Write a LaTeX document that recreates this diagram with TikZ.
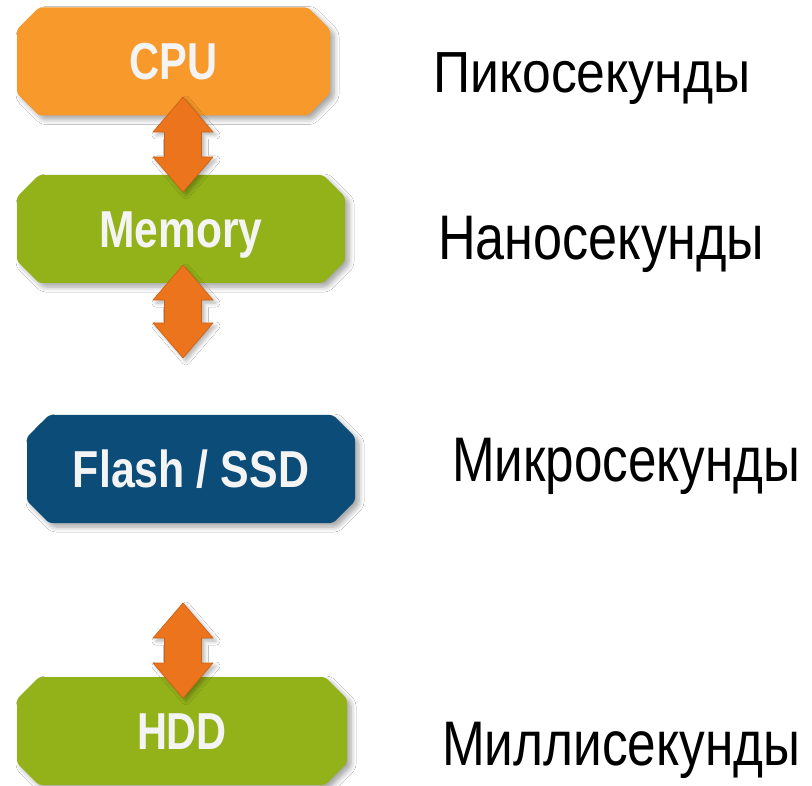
\documentclass[tikz,border=0pt]{standalone}
\usepackage{fontspec}
\setmainfont{Liberation Sans}
\usepackage{graphicx}
\usetikzlibrary{shapes.misc,shadows.blur,calc}
\definecolor{cpuorange}{HTML}{F7992B}
\definecolor{memgreen}{HTML}{93B21A}
\definecolor{flashblue}{HTML}{0B4C78}
\definecolor{arroworange}{HTML}{EB741C}
\definecolor{labelwhite}{HTML}{F4F4F4}
\newcommand\narrowtext[2]{\resizebox{#1}{\height}{#2}}
% block double arrow between two named coordinates (top tip, bottom tip)
\newcommand\blockarrow[2]{%
  \fill[arrowfill]
    (#1) -- ($(#1)+(30,35)$) -- ($(#1)+(18.5,35)$) -- ($(#2)+(18.5,-35)$) -- ($(#2)+(30,-35)$)
    -- (#2) -- ($(#2)+(-30,-35)$) -- ($(#2)+(-18.5,-35)$) -- ($(#1)+(-18.5,35)$) -- ($(#1)+(-30,35)$) -- cycle;}
\tikzset{
  membox/.style={chamfered rectangle, chamfered rectangle xsep=11pt, chamfered rectangle ysep=11pt,
    rounded corners=3pt, inner sep=0pt, minimum height=108pt, text=labelwhite,
    text height=37pt, text depth=0pt,
    font=\fontsize{52}{52}\selectfont\bfseries,
    blur shadow={shadow xshift=4pt, shadow yshift=-4pt, shadow blur steps=6, shadow opacity=35, shadow blur radius=5pt}},
  arrowfill/.style={fill=arroworange, draw=arroworange!85!black, line width=0.6pt, line join=round,
    blur shadow={shadow xshift=3pt, shadow yshift=-3pt, shadow blur steps=5, shadow opacity=30, shadow blur radius=4pt}},
  timelabel/.style={anchor=base west, inner sep=0pt, text=black}
}
\begin{document}
\begin{tikzpicture}[x=1pt,y=-1pt]
\useasboundingbox (0,0) rectangle (812,786);
\fill[white] (0,0) rectangle (812,786);
% boxes
\node[membox, fill=cpuorange, minimum width=313pt] (cpu) at (173.5,61.5) {\narrowtext{88pt}{CPU}};
\node[membox, fill=memgreen, minimum width=328pt] (mem) at (181,229) {\narrowtext{163pt}{Memory}};
\node[membox, fill=flashblue, minimum width=328pt] (flash) at (191,469) {\narrowtext{236pt}{Flash / SSD}};
\node[membox, fill=memgreen, minimum width=330pt] (hdd) at (182,731) {\narrowtext{90pt}{HDD}};
% arrows
\coordinate (a1t) at (183,97);  \coordinate (a1b) at (183,192);
\coordinate (a2t) at (183,265); \coordinate (a2b) at (183,358);
\coordinate (a3t) at (183,603); \coordinate (a3b) at (183,698);
\blockarrow{a1t}{a1b}
\blockarrow{a2t}{a2b}
\blockarrow{a3t}{a3b}
% time labels
\node[timelabel, font=\fontsize{58}{58}\selectfont] (t1) at (433,93) {\narrowtext{317pt}{Пикосекунды}};
\node[timelabel, font=\fontsize{63}{63}\selectfont] (t2) at (438,260) {\narrowtext{326pt}{Наносекунды}};
\node[timelabel, font=\fontsize{63}{63}\selectfont] (t3) at (452,482) {\narrowtext{348pt}{Микросекунды}};
\node[timelabel, font=\fontsize{63}{63}\selectfont] (t4) at (442,765) {\narrowtext{358pt}{Миллисекунды}};
\end{tikzpicture}
\end{document}
